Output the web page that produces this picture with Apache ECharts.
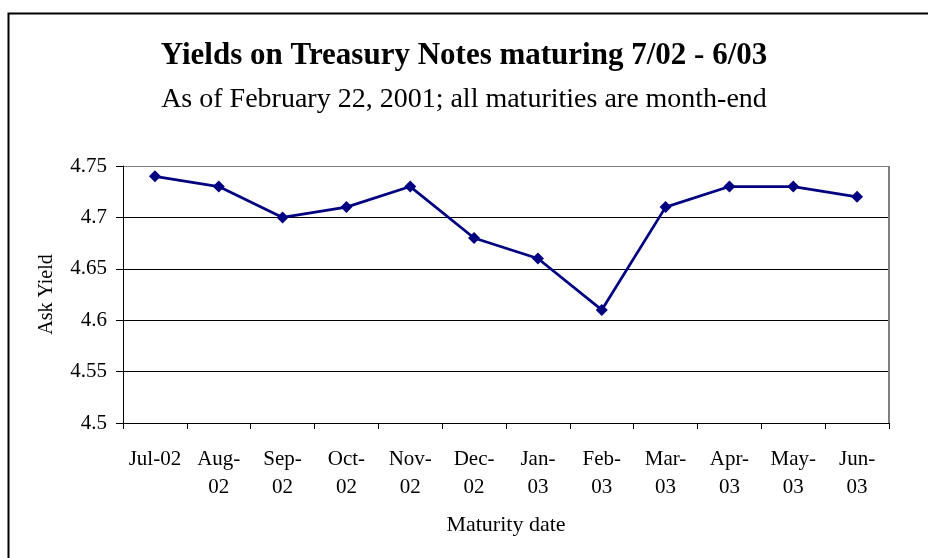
<!DOCTYPE html>
<html>
<head>
<meta charset="utf-8">
<script src="https://cdn.jsdelivr.net/npm/echarts@6/dist/echarts.min.js"></script>
<style>
html,body{margin:0;padding:0;background:#fff;}
#chart{width:928px;height:558px;}
</style>
</head>
<body>
<div id="chart"></div>
<script>
const categories = ["Jul-02","Aug-02","Sep-02","Oct-02","Nov-02","Dec-02","Jan-03","Feb-03","Mar-03","Apr-03","May-03","Jun-03"];
const askYield = [4.74, 4.73, 4.70, 4.71, 4.73, 4.68, 4.66, 4.61, 4.71, 4.73, 4.73, 4.72];
const yTicks = [4.5, 4.55, 4.6, 4.65, 4.7, 4.75];

const serif = '"Liberation Serif", "Times New Roman", serif';
const chart = echarts.init(document.getElementById('chart'), null, {renderer: 'canvas'});
chart.setOption({
  animation: false,
  backgroundColor: '#fff',
  title: [
    {text: 'Yields on Treasury Notes maturing 7/02 - 6/03', left: 'center', top: 40, padding: 0,
     textStyle: {fontFamily: serif, fontSize: 31, fontWeight: 'bold', color: '#000'}},
    {text: 'As of February 22, 2001; all maturities are month-end', left: 'center', top: 86, padding: 0,
     textStyle: {fontFamily: serif, fontSize: 28, fontWeight: 'normal', color: '#000'}}
  ],
  graphic: [
    {type: 'rect', shape: {x: 8.5, y: 13.5, width: 940, height: 560}, style: {fill: null, stroke: '#000', lineWidth: 2}, silent: true},
    {type: 'line', shape: {x1: 889, y1: 166, x2: 889, y2: 423}, style: {stroke: '#808080', lineWidth: 2}, silent: true, z: 5}
  ],
  grid: {left: 123, right: 39, top: 166, bottom: 135, containLabel: false},
  xAxis: {
    type: 'category',
    data: categories,
    boundaryGap: true,
    name: 'Maturity date',
    nameLocation: 'middle',
    nameGap: 91,
    nameTextStyle: {fontFamily: serif, fontSize: 22, color: '#000'},
    axisLine: {lineStyle: {color: '#000', width: 1}},
    axisTick: {show: true, alignWithLabel: false, length: 6, lineStyle: {color: '#000'}},
    axisLabel: {
      interval: 0, fontFamily: serif, fontSize: 21, color: '#000', margin: 22, lineHeight: 28,
      verticalAlign: 'top',
      formatter: function (v, i) { return i === 0 ? v : v.replace('-', '-\n'); }
    }
  },
  yAxis: {
    type: 'value',
    min: 4.5, max: 4.75, interval: 0.05,
    name: 'Ask Yield',
    nameLocation: 'middle',
    nameGap: 66,
    nameRotate: 90,
    nameTextStyle: {fontFamily: serif, fontSize: 20, color: '#000'},
    axisLine: {show: true, lineStyle: {color: '#000', width: 1}},
    axisTick: {show: true, length: 7, lineStyle: {color: '#000'}},
    splitLine: {show: true, lineStyle: {color: ['#000', '#000', '#000', '#000', '#000', '#808080'], width: 1}},
    axisLabel: {fontFamily: serif, fontSize: 21, color: '#000', margin: 16,
      formatter: function (v) { return yTicks.indexOf(Math.round(v*100)/100) >= 0 ? String(Math.round(v*100)/100) : ''; }}
  },
  series: [{
    type: 'line',
    data: askYield,
    symbol: 'diamond',
    symbolSize: 12,
    lineStyle: {color: '#000080', width: 2.75},
    itemStyle: {color: '#000080'},
    z: 10
  }]
});
</script>
</body>
</html>
